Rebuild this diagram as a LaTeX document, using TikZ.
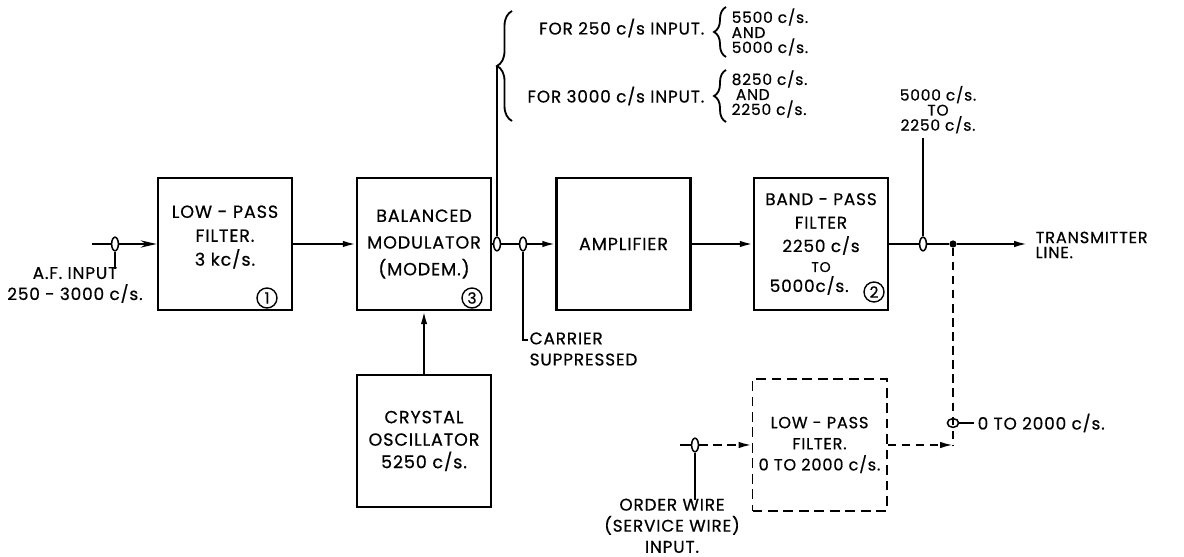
\documentclass[tikz,border=0pt]{standalone}
\usepackage{fontspec}
\setmainfont{Poppins}[LetterSpace=5, FakeBold=0.6]
\usetikzlibrary{arrows.meta, calc, shapes.geometric, decorations.pathreplacing}

\newcommand{\blockfont}{\fontsize{12.5}{17}\selectfont}
\newcommand{\labfont}{\fontsize{12}{15}\selectfont}
\newcommand{\notefont}{\fontsize{11}{10.7}\selectfont}

\tikzset{
  block/.style={draw, line width=1.9pt, minimum width=3.35cm, minimum height=3.3cm,
    align=center, font=\blockfont, inner sep=2pt},
  wire/.style={draw, line width=1.3pt},
  dline/.style={wire, dash pattern=on 6pt off 4pt},
  probe/.style={ellipse, draw, fill=white, line width=1.1pt, minimum width=0.17cm,
    minimum height=0.34cm, inner sep=0pt},
  num/.style={circle, draw, line width=1pt, minimum size=0.5cm, inner sep=0pt,
    font=\fontsize{11}{11}\selectfont},
  txt/.style={align=center, font=\labfont, inner sep=1pt},
  note/.style={align=center, font=\notefont, inner sep=1pt},
  bigbrace/.style={wire, decorate, decoration={brace, amplitude=0.375cm}},
  smallbrace/.style={wire, decorate, decoration={brace, amplitude=0.3cm}}
}

\begin{document}
\begin{tikzpicture}[>={Latex[length=3.2mm,width=1.6mm]}]
  \useasboundingbox (0,0) rectangle (29.6,13.925);

  % Blocks, main row
  \node[block] (lpf) at (5.625,7.825) {LOW - PASS\\FILTER.\\3 kc/s.\\[-5pt]};
  \node[block, font=\fontsize{12.5}{19}\selectfont] (mod) at (10.6,7.825) {BALANCED\\MODULATOR\\(MODEM.)};
  \node[block] (amp) at (15.5875,7.825) {AMPLIFIER};
  \node[block, font=\fontsize{12}{16.7}\selectfont] (bpf) at (20.525,7.825)
    {BAND - PASS\\FILTER\\2250 c/s\\[-2.5pt]{\fontsize{10}{10}\selectfont TO}\\[-2.5pt]5000c/s.\hspace*{1.4em}};

  % Blocks, lower row
  \node[block, font=\fontsize{12.5}{16}\selectfont] (osc) at (10.6,2.9) {CRYSTAL\\OSCILLATOR\\5250 c/s.};
  \node[block, line width=1.4pt, dash pattern=on 7pt off 4pt, font=\fontsize{11.5}{15}\selectfont]
    (olpf) at (20.4875,2.8) {LOW - PASS\\FILTER.\\0 TO 2000 c/s.};

  % Circled numbers
  \node[num] (n1) at (6.675,6.475) {1};
  \node[num] (n3) at (11.8,6.475) {3};
  \node[num] (n2) at (21.85,6.625) {2};

  % A.F. input
  \coordinate (afin) at (2.3,7.825);
  \node[probe] (p1) at (2.875,7.825) {};
  \coordinate (p1s) at (2.875,7.2);
  \draw[wire] (afin) -- (p1);
  \draw[wire, ->, >={Stealth[length=4mm,width=1.8mm]}] (p1) -- (lpf);
  \draw[wire] (p1) -- (p1s);
  \node[txt] (aflab) at (1.875,6.8) {A.F. INPUT\\250 - 3000 c/s.};

  % Main chain
  \draw[wire, ->] (lpf) -- (mod);
  \node[probe] (p2) at (12.425,7.825) {};
  \node[probe] (p3) at (13.075,7.825) {};
  \draw[wire] (mod) -- (p2);
  \draw[wire] (p2) -- (p3);
  \draw[wire, ->] (p3) -- (amp);
  \draw[wire, ->] (amp) -- (bpf);
  \draw[wire, ->] (osc) -- (mod);

  % Carrier suppressed
  \coordinate (p3s) at (13.075,5.425);
  \coordinate (p3h) at (13.2,5.425);
  \draw[wire] (p3) -- (p3s) -- (p3h);
  \node[txt, anchor=west, align=left] (carlab) at (13.2,5.2) {CARRIER\\SUPPRESSED};

  % Sidebands after modulator
  \coordinate (btip) at (12.425,12.275);
  \draw[wire] (p2) -- (btip);
  \draw[bigbrace] (12.8,10.9) -- (12.8,13.65);
  \node[txt, anchor=east] (for250) at (17.65,13.225) {FOR 250 c/s INPUT.};
  \node[txt, anchor=east] (for3000) at (17.65,11.525) {FOR 3000 c/s INPUT.};
  \draw[smallbrace] (18.15,12.5) -- (18.15,13.75);
  \draw[smallbrace] (18.15,10.875) -- (18.15,12.175);
  \node[note, align=left, anchor=west] (sb250) at (18.25,13.125) {5500 c/s.\\AND\\5000 c/s.};
  \node[note, align=left, anchor=west] (sb3000) at (18.25,11.575) {8250 c/s.\\\hspace{3pt}AND\\2250 c/s.};

  % Output to line
  \node[probe] (p4) at (23.075,7.825) {};
  \node[circle, fill, inner sep=0pt, minimum size=0.18cm] (jn) at (23.825,7.825) {};
  \coordinate (txend) at (25.675,7.825);
  \draw[wire] (bpf) -- (p4);
  \draw[wire] (p4) -- (jn);
  \draw[wire, ->] (jn) -- (txend);
  \node[note, align=left, anchor=west, font=\fontsize{11.5}{10.7}\selectfont] (txlab) at (25.85,7.8) {TRANSMITTER\\LINE.};
  \coordinate (p4top) at (23.075,10.475);
  \draw[wire] (p4) -- (p4top);
  \node[note, anchor=south] (bpfout) at (23.45,10.55) {5000 c/s.\\TO\\2250 c/s.};

  % Order wire
  \coordinate (jcorner) at (23.825,2.8);
  \draw[dline] (jn) -- (jcorner);
  \draw[dline, ->] (olpf) -- (jcorner);
  \node[ellipse, draw, line width=1.1pt, minimum width=0.28cm, minimum height=0.22cm, inner sep=0pt]
    (p6) at (23.825,3.35) {};
  \coordinate (p6s) at (24.35,3.35);
  \draw[wire] (p6) -- (p6s);
  \node[txt, anchor=west] (olab) at (24.4,3.35) {0 TO 2000 c/s.};
  \coordinate (owin) at (17.0,2.8);
  \node[probe] (p7) at (17.375,2.8) {};
  \coordinate (p7s) at (17.375,1.425);
  \draw[wire] (owin) -- (p7);
  \draw[dline, ->] (p7) -- (olpf);
  \draw[wire] (p7) -- (p7s);
  \node[txt, anchor=north] (owlab) at (16.8,1.5) {ORDER WIRE\\(SERVICE WIRE)\\INPUT.};

\end{tikzpicture}
\end{document}
